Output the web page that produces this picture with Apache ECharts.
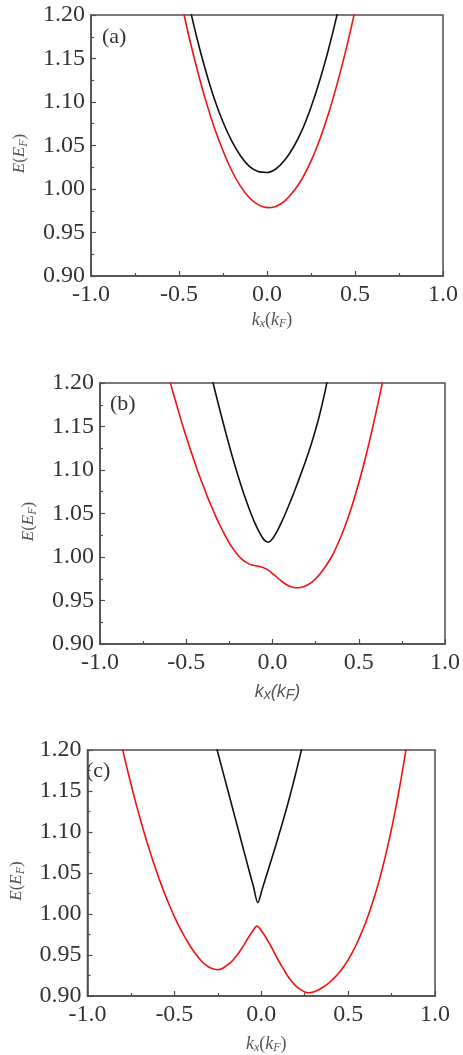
<!DOCTYPE html>
<html>
<head>
<meta charset="utf-8">
<title>E(E_F) vs k_x(k_F)</title>
<script src="https://cdn.jsdelivr.net/npm/echarts@6/dist/echarts.min.js"></script>
<style>
  html, body { margin: 0; padding: 0; background: #fff; }
  #chart { width: 463px; height: 1055px; }
</style>
</head>
<body>
<div id="chart"></div>
<script>
// tick labels
const xTickLabels = ['-1.0', '-0.5', '0.0', '0.5', '1.0']
const yTickLabels = ['0.90', '0.95', '1.00', '1.05', '1.10', '1.15', '1.20']
const panelLabels = ['(a)', '(b)', '(c)']

// panel (a)
const kA_black = [-0.45, -0.40, -0.35, -0.30, -0.25, -0.20, -0.15, -0.10, -0.05, 0.00, 0.05, 0.10, 0.15, 0.20, 0.25, 0.30, 0.35, 0.40, 0.45]
const eA_black = [1.218, 1.175, 1.137, 1.104, 1.077, 1.055, 1.038, 1.026, 1.020, 1.019, 1.023, 1.033, 1.048, 1.068, 1.094, 1.125, 1.161, 1.202, 1.249]
const kA_red = [-0.50, -0.45, -0.40, -0.35, -0.30, -0.25, -0.20, -0.15, -0.10, -0.05, 0.00, 0.05, 0.10, 0.15, 0.20, 0.25, 0.30, 0.35, 0.40, 0.45, 0.50, 0.55]
const eA_red = [1.2275, 1.181, 1.140, 1.103, 1.071, 1.044, 1.021, 1.003, 0.990, 0.982, 0.9786, 0.980, 0.986, 0.997, 1.012, 1.032, 1.057, 1.087, 1.122, 1.161, 1.205, 1.2535]

// panel (b)
const kB_black = [-0.350, -0.325, -0.300, -0.275, -0.250, -0.225, -0.200, -0.175, -0.150, -0.125, -0.100, -0.075, -0.050, -0.025,
  0.000, 0.025, 0.050, 0.075, 0.100, 0.125, 0.150, 0.175, 0.200, 0.225, 0.250, 0.275, 0.300, 0.325]
const eB_black = [1.2045, 1.1845, 1.165, 1.146, 1.1275, 1.110, 1.0935, 1.078, 1.0635, 1.050, 1.038, 1.028, 1.020, 1.017,
  1.021, 1.029, 1.039, 1.050, 1.062, 1.0745, 1.0875, 1.101, 1.115, 1.130, 1.1465, 1.165, 1.186, 1.210]
const kB_red = [-0.600, -0.575, -0.550, -0.525, -0.500, -0.475, -0.450, -0.425, -0.400, -0.375, -0.350, -0.325, -0.300,
  -0.275, -0.250, -0.225, -0.200, -0.175, -0.150, -0.125, -0.100, -0.075, -0.050, -0.025, 0.000, 0.025, 0.050, 0.075,
  0.100, 0.125, 0.150, 0.175, 0.200, 0.225, 0.250, 0.275, 0.300, 0.325, 0.350, 0.375, 0.400, 0.425, 0.450, 0.475,
  0.500, 0.525, 0.550, 0.575, 0.600, 0.625, 0.650]
const eB_red = [1.206, 1.188, 1.171, 1.154, 1.138, 1.123, 1.108, 1.094, 1.081, 1.068, 1.0565, 1.045, 1.0345,
  1.025, 1.016, 1.0085, 1.002, 0.997, 0.9935, 0.991, 0.990, 0.989, 0.9875, 0.985, 0.981, 0.977, 0.9725, 0.969,
  0.9665, 0.965, 0.9647, 0.9655, 0.9675, 0.9705, 0.975, 0.9805, 0.987, 0.9945, 1.003, 1.0135, 1.025, 1.038, 1.052, 1.068,
  1.085, 1.1035, 1.123, 1.144, 1.166, 1.189, 1.213]

// panel (c)
const kC_black = [-0.270, -0.245, -0.220, -0.195, -0.170, -0.145, -0.120, -0.095, -0.070, -0.045, -0.020,
  0.005, 0.030, 0.055, 0.080, 0.105, 0.130, 0.155, 0.180, 0.205, 0.230, 0.255]
const eC_black = [1.213, 1.193, 1.173, 1.153, 1.133, 1.113, 1.093, 1.073, 1.053, 1.0335, 1.0138,
  1.030, 1.047, 1.064, 1.081, 1.099, 1.117, 1.136, 1.156, 1.177, 1.199, 1.222]
const kC_red = [-0.800, -0.775, -0.750, -0.725, -0.700, -0.675, -0.650, -0.625, -0.600, -0.575, -0.550, -0.525,
  -0.500, -0.475, -0.450, -0.425, -0.400, -0.375, -0.350, -0.325, -0.300, -0.275, -0.250, -0.225, -0.200, -0.175,
  -0.150, -0.125, -0.100, -0.075, -0.050, -0.025, 0.000, 0.025, 0.050, 0.075, 0.100, 0.125, 0.150, 0.175, 0.200,
  0.225, 0.250, 0.275, 0.300, 0.325, 0.350, 0.375, 0.400, 0.425, 0.450, 0.475, 0.500, 0.525, 0.550, 0.575, 0.600,
  0.625, 0.650, 0.675, 0.700, 0.725, 0.750, 0.775, 0.800, 0.825, 0.850]
const eC_red = [1.2025, 1.180, 1.1585, 1.138, 1.1185, 1.100, 1.0825, 1.066, 1.0503, 1.0355, 1.0218, 1.0088,
  0.9968, 0.9858, 0.9758, 0.9665, 0.958, 0.9505, 0.944, 0.9388, 0.935, 0.9328, 0.932, 0.9335, 0.937, 0.941,
  0.947, 0.954, 0.962, 0.971, 0.979, 0.9852, 0.980, 0.972, 0.963, 0.953, 0.943, 0.934, 0.925, 0.918, 0.912,
  0.908, 0.905, 0.904, 0.905, 0.907, 0.910, 0.9135, 0.918, 0.923, 0.929, 0.936, 0.944, 0.9535, 0.964, 0.976, 0.989,
  1.004, 1.020, 1.038, 1.058, 1.080, 1.104, 1.130, 1.159, 1.190, 1.223]

const zip = (ks, es) => ks.map((k, i) => [k, es[i]])

const SERIF = '"Liberation Serif", "Times New Roman", serif'
const SANS = '"Liberation Sans", Arial, sans-serif'
const AXIS_COLOR = '#4d4d4d'

const grids = [
  { left: 91, top: 15, width: 352, height: 261 },
  { left: 100, top: 383, width: 352, height: 261 },
  { left: 82, top: 750, width: 353, height: 261 }
]
const labelPos = [[102, 26], [110, 393], [86, 760]]

function serifName(size) {
  const base = { fontFamily: SERIF, fontSize: size, color: '#555', lineHeight: 20 }
  return {
    i: Object.assign({}, base, { fontStyle: 'italic' }),
    n: Object.assign({}, base, { fontStyle: 'normal' }),
    s: Object.assign({}, base, { fontStyle: 'italic', fontSize: 12, lineHeight: 10, verticalAlign: 'bottom' })
  }
}

function sansName() {
  const base = { fontFamily: SANS, fontSize: 18, color: '#555', fontStyle: 'italic', lineHeight: 20 }
  return {
    i: base,
    n: base,
    s: Object.assign({}, base, { fontSize: 14, lineHeight: 10, verticalAlign: 'bottom' })
  }
}

const commonAxis = {
  axisLine: { show: true, onZero: false, lineStyle: { color: AXIS_COLOR, width: 1.5 } },
  axisTick: { show: true, inside: true, length: 5, lineStyle: { color: AXIS_COLOR, width: 1.2 } },
  minorTick: { show: true, splitNumber: 2, length: 3, lineStyle: { color: AXIS_COLOR, width: 1.2 } },
  splitLine: { show: false },
  minorSplitLine: { show: false }
}

const xAxes = grids.map((g, i) => Object.assign({}, commonAxis, {
  type: 'value',
  gridIndex: i,
  min: -1,
  max: 1,
  interval: 0.5,
  axisLabel: {
    margin: 7,
    fontFamily: SERIF,
    fontSize: 24,
    color: '#333',
    formatter: v => xTickLabels[Math.round((v + 1) / 0.5)]
  },
  name: '{i|k}{s|x}{n|(}{i|k}{s|F}{n|)}',
  nameLocation: 'middle',
  nameGap: i === 0 ? 34 : 38,
  nameTextStyle: {
    padding: [0, 0, 0, 10],
    rich: i === 1 ? sansName() : serifName(18)
  }
}))

const yAxes = grids.map((g, i) => Object.assign({}, commonAxis, {
  type: 'value',
  gridIndex: i,
  min: 0.9,
  max: 1.2,
  interval: 0.05,
  axisLabel: {
    margin: 6,
    fontFamily: SERIF,
    fontSize: 24,
    color: '#333',
    formatter: v => yTickLabels[Math.round((v - 0.9) / 0.05)]
  },
  name: '{i|E}{n|(}{i|E}{s|F}{n|)}',
  nameLocation: 'middle',
  nameGap: 61,
  nameTextStyle: {
    padding: [0, 16, 0, 0],
    rich: serifName(17)
  }
}))

const curves = [
  [zip(kA_black, eA_black), zip(kA_red, eA_red)],
  [zip(kB_black, eB_black), zip(kB_red, eB_red)],
  [zip(kC_black, eC_black), zip(kC_red, eC_red)]
]

const series = []
curves.forEach((pair, i) => {
  ;['#111', '#f01010'].forEach((color, j) => {
    series.push({
      type: 'line',
      xAxisIndex: i,
      yAxisIndex: i,
      data: pair[j],
      smooth: 0.3,
      showSymbol: false,
      clip: true,
      lineStyle: { color: color, width: 1.6 },
      silent: true
    })
  })
})

const chart = echarts.init(document.getElementById('chart'), null, { renderer: 'canvas' })
chart.setOption({
  animation: false,
  backgroundColor: '#fff',
  grid: grids.map(g => Object.assign({ show: true, borderColor: AXIS_COLOR, borderWidth: 1.5, containLabel: false }, g)),
  xAxis: xAxes,
  yAxis: yAxes,
  graphic: panelLabels.map((t, i) => ({
    type: 'text',
    left: labelPos[i][0],
    top: labelPos[i][1],
    style: { text: t, font: '22px ' + SERIF, fill: '#333' }
  })),
  series: series
})
</script>
</body>
</html>
